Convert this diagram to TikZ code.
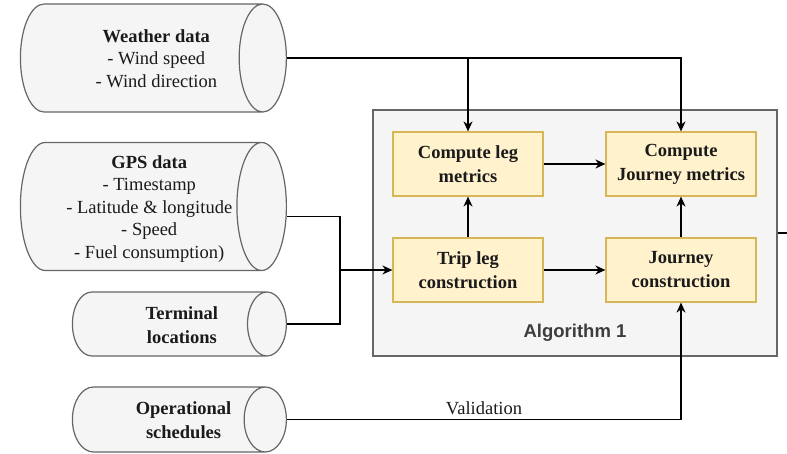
\documentclass[tikz,border=0pt]{standalone}
\usepackage{fontspec}
\setmainfont{Liberation Serif}
\newfontfamily\algfont{Liberation Sans}
\usetikzlibrary{positioning,arrows.meta,shapes.geometric}

\definecolor{storefill}{HTML}{F5F5F5}
\definecolor{edgegray}{HTML}{666666}
\definecolor{boxfill}{HTML}{FFF2CC}
\definecolor{boxline}{HTML}{D6B656}
\definecolor{inkgray}{HTML}{1A1A1A}
\definecolor{alggray}{HTML}{3D3D3D}

% cylinder text sits left of the shape centre, so pad it on the left
\newcommand{\storetext}[2]{\hspace*{#1}\raisebox{-2.5pt}[\height][\depth]{\begin{tabular}{@{}c@{}}#2\end{tabular}}}

\begin{document}
\begin{tikzpicture}[x=1pt, y=-1pt, >={Stealth[length=10pt,width=9pt]},
  font=\fontsize{18.5}{22.5}\selectfont, text=inkgray,
  store/.style={cylinder, draw=edgegray, line width=1.2pt, cylinder uses custom fill,
    cylinder body fill=storefill, cylinder end fill=storefill, align=center, inner sep=0pt,
    anchor=east},
  stepbox/.style={draw=boxline, fill=boxfill, line width=1.2pt, align=center, inner sep=0pt,
    minimum width=150pt, minimum height=64pt, font=\fontsize{18.5}{24}\selectfont\bfseries},
  flow/.style={line width=1.6pt}]
\useasboundingbox (0,0) rectangle (787,454);

% data sources (cylinder: height runs along the axis, width across it)
\node[store, minimum height=266pt, minimum width=108pt, aspect=0.70] (weather) at (287,58)
  {\storetext{30pt}{\textbf{Weather data}\\- Wind speed\\- Wind direction}};
\node[store, minimum height=266pt, minimum width=128pt, aspect=0.44] (gps) at (287,206.5)
  {\storetext{17pt}{\textbf{GPS data}\\- Timestamp\\- Latitude \& longitude\\- Speed\\- Fuel consumption)}};
\node[store, minimum height=214pt, minimum width=64pt, aspect=0.81, font=\fontsize{18.5}{24}\selectfont\bfseries] (terminal) at (287,324)
  {\storetext{25pt}{Terminal\\locations}};
\node[store, minimum height=214pt, minimum width=65pt, aspect=0.88, font=\fontsize{18.5}{24}\selectfont\bfseries] (ops) at (287,419.5)
  {\storetext{30pt}{Operational\\schedules}};

% algorithm block
\node[draw=edgegray, fill=storefill, line width=1.4pt, minimum width=404pt, minimum height=246pt] (algo) at (575,233) {};
\node[font=\algfont\fontsize{18.5}{22}\selectfont\bfseries, text=alggray] (algname) at (575,333) {Algorithm 1};
\node[stepbox] (trip) at (468,270) {Trip leg\\construction};
\node[stepbox] (legm) at (468,164) {Compute leg\\metrics};
\node[stepbox] (jrnc) at (681,270) {Journey\\construction};
\node[stepbox] (jrnm) at (681,164) {Compute\\Journey metrics};

\coordinate (wjoin) at (legm.north |- weather.east);
\coordinate (merge) at (340,270);
\coordinate (out) at (787,233);

% connectors
\draw[flow, ->] (weather.east) -| (jrnm.north);
\draw[flow, ->] (wjoin) -- (legm.north);
\draw[flow] ([yshift=-10pt]gps.east) -| (merge);
\draw[flow] (terminal.east) -| (merge);
\draw[flow, ->] (merge) -- (trip.west);
\draw[flow, ->] (ops.east) -| node[pos=0.25, above=1pt] {Validation} (jrnc.south);
\draw[flow, ->] (trip) -- (legm);
\draw[flow, ->] (trip) -- (jrnc);
\draw[flow, ->] (legm) -- (jrnm);
\draw[flow, ->] (jrnc) -- (jrnm);
\draw[flow] (algo.east) -- (out);
\end{tikzpicture}
\end{document}
